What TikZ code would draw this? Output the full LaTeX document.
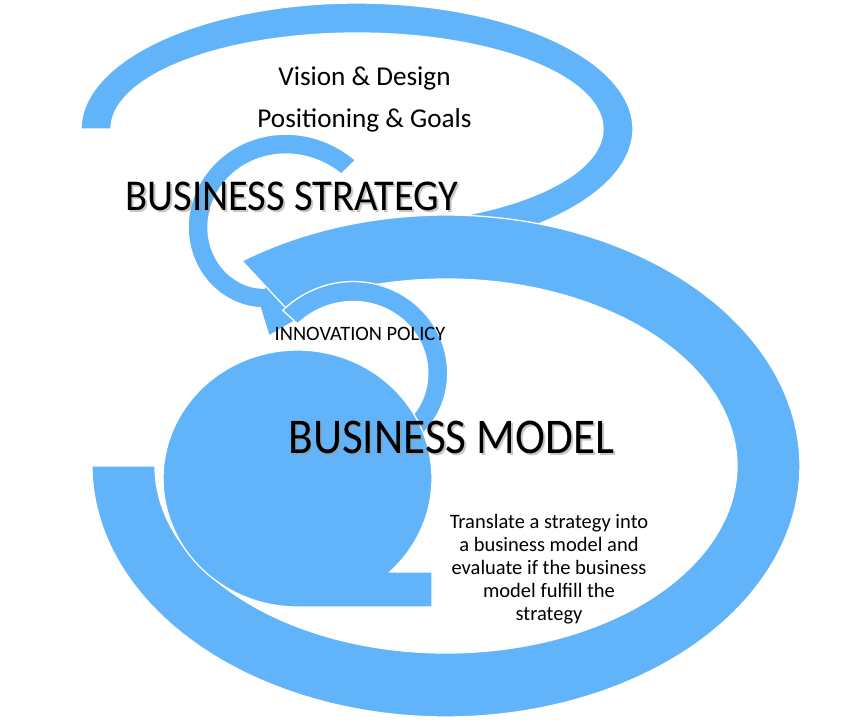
\documentclass[tikz,border=0pt]{standalone}
\usepackage{fontspec}
\setmainfont{Carlito}
\definecolor{sky}{RGB}{98,180,250}
\tikzset{
  band/.style={fill=sky, draw=white, line width=1.3pt, line join=miter},
  bigtxt/.style={inner sep=0pt, anchor=base, text=black},
  shtxt/.style={inner sep=0pt, anchor=base, text=black!40, opacity=0.55},
  plaintxt/.style={inner sep=0pt, anchor=base, text=black}
}
\begin{document}
\begin{tikzpicture}[x=1pt,y=-1pt]
\useasboundingbox (0,0) rectangle (850,722);
% top arc
\path[band] plot[domain=180:432, samples=140] ({357+276*cos(\x)}, {129+126*sin(\x)})
  -- plot[domain=432:180, samples=140] ({357+246*cos(\x)}, {129+96*sin(\x)}) -- cycle;
% small curved arrow
\path[band] plot[domain=-44:-258, samples=120] ({275+(112+0.19*(\x+44))*cos(\x)}, {238+(112+0.19*(\x+44))*sin(\x)})
  -- (269,336) -- (310,312) -- (267,281)
  -- plot[domain=-258:-44, samples=120] ({275+(92+0.19*(\x+44))*cos(\x)}, {238+(92+0.19*(\x+44))*sin(\x)}) -- cycle;
% big arc
\path[band] plot[domain=-125.2:180, samples=200] ({446+354*cos(\x)}, {466+251*sin(\x)})
  -- plot[domain=180:-123.1, samples=200] ({446+291*cos(\x)}, {466+187*sin(\x)}) -- cycle;
% medium arc
\path[band] plot[domain=-138:55, samples=120] ({360+(104-0.12*(\x+138))*cos(\x)}, {380+(104-0.12*(\x+138))*sin(\x)})
  -- plot[domain=55:-138, samples=120] ({360+(84-0.12*(\x+138))*cos(\x)}, {380+(84-0.12*(\x+138))*sin(\x)}) -- cycle;
% circle with square corner
\path[band] plot[domain=90:406.7, samples=160] ({297.5+134.5*cos(\x)}, {478.5+128.5*sin(\x)})
  -- (432,572) -- (432,607) -- cycle;
% texts
\node[plaintxt, font=\fontsize{27.2}{30}\selectfont] (vision) at (364.5,86) {Vision \& Design};
\node[plaintxt, font=\fontsize{27.2}{30}\selectfont] (posit) at (364.5,128) {Positioning \& Goals};
\node[shtxt, xscale=0.922, font=\fontsize{44}{48}\selectfont] (bs-sh) at (294,212) {BUSINESS STRATEGY};
\node[bigtxt, xscale=0.922, font=\fontsize{44}{48}\selectfont] (bs) at (292,210) {BUSINESS STRATEGY};
\node[plaintxt, font=\fontsize{20.4}{23}\selectfont] (innov) at (360,340) {INNOVATION POLICY};
\node[shtxt, xscale=0.905, font=\fontsize{50}{54}\selectfont] (bm-sh) at (453.5,455) {BUSINESS MODEL};
\node[bigtxt, xscale=0.905, font=\fontsize{50}{54}\selectfont] (bm) at (451.5,453) {BUSINESS MODEL};
\node[inner sep=0pt, anchor=center, align=center, font=\fontsize{20.5}{23}\selectfont] (transl) at (549,569)
  {Translate a strategy into\\a business model and\\evaluate if the business\\model fulfill the\\strategy};
\end{tikzpicture}
\end{document}
